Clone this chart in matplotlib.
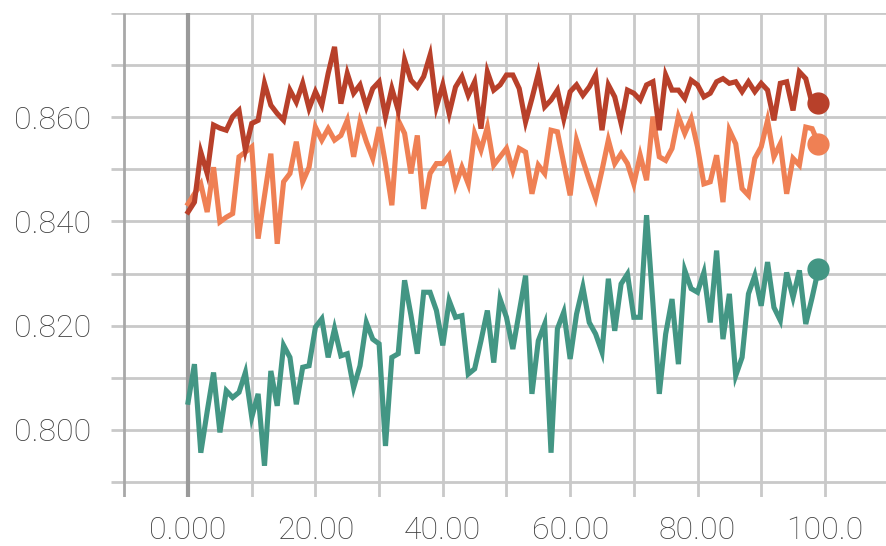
import numpy as np
import matplotlib.pyplot as plt

# values, one per step 0..99
steps = list(range(100))

red = [0.8418, 0.8437, 0.8533, 0.8492, 0.8585, 0.8579, 0.8575, 0.8601, 0.8613, 0.8537,
       0.8588, 0.8594, 0.8665, 0.8623, 0.8607, 0.8594, 0.8652, 0.8629, 0.8665, 0.8617,
       0.8649, 0.8623, 0.8684, 0.8735, 0.8626, 0.8684, 0.8646, 0.8662, 0.8620, 0.8655,
       0.8668, 0.8601, 0.8655, 0.8613, 0.8710, 0.8671, 0.8658, 0.8678, 0.8719, 0.8620,
       0.8662, 0.8607, 0.8658, 0.8678, 0.8642, 0.8668, 0.8578, 0.8687, 0.8652, 0.8662,
       0.8681, 0.8681, 0.8655, 0.8591, 0.8636, 0.8684, 0.8620, 0.8633, 0.8652, 0.8597,
       0.8649, 0.8662, 0.8642, 0.8658, 0.8681, 0.8575, 0.8662, 0.8639, 0.8588, 0.8652,
       0.8646, 0.8633, 0.8662, 0.8668, 0.8575, 0.8681, 0.8652, 0.8652, 0.8636, 0.8671,
       0.8662, 0.8639, 0.8646, 0.8668, 0.8674, 0.8665, 0.8668, 0.8649, 0.8668, 0.8649,
       0.8665, 0.8652, 0.8594, 0.8665, 0.8668, 0.8613, 0.8687, 0.8674, 0.8626, 0.8628]

orange = [0.8434, 0.8453, 0.8472, 0.8418, 0.8504, 0.8399, 0.8408, 0.8415, 0.8524, 0.8533,
          0.8543, 0.8367, 0.8449, 0.8530, 0.8357, 0.8476, 0.8492, 0.8553, 0.8476, 0.8504,
          0.8581, 0.8556, 0.8578, 0.8556, 0.8565, 0.8594, 0.8524, 0.8591, 0.8553, 0.8521,
          0.8581, 0.8511, 0.8431, 0.8594, 0.8569, 0.8492, 0.8565, 0.8424, 0.8492, 0.8511,
          0.8511, 0.8527, 0.8469, 0.8504, 0.8472, 0.8569, 0.8537, 0.8581, 0.8508, 0.8524,
          0.8540, 0.8498, 0.8540, 0.8533, 0.8453, 0.8508, 0.8492, 0.8575, 0.8572, 0.8511,
          0.8450, 0.8556, 0.8517, 0.8479, 0.8444, 0.8498, 0.8556, 0.8511, 0.8530, 0.8511,
          0.8472, 0.8527, 0.8479, 0.8601, 0.8524, 0.8517, 0.8540, 0.8601, 0.8569, 0.8597,
          0.8543, 0.8472, 0.8476, 0.8527, 0.8437, 0.8575, 0.8549, 0.8463, 0.8450, 0.8521,
          0.8543, 0.8594, 0.8524, 0.8549, 0.8453, 0.8521, 0.8508, 0.8581, 0.8578, 0.8549]

green = [0.8053, 0.8126, 0.7956, 0.8035, 0.8110, 0.7995, 0.8075, 0.8062, 0.8072, 0.8110,
         0.8024, 0.8069, 0.7931, 0.8113, 0.8046, 0.8162, 0.8139, 0.8049, 0.8120, 0.8123,
         0.8197, 0.8213, 0.8139, 0.8194, 0.8142, 0.8146, 0.8081, 0.8123, 0.8206, 0.8174,
         0.8165, 0.7969, 0.8139, 0.8146, 0.8287, 0.8220, 0.8146, 0.8264, 0.8264, 0.8229,
         0.8162, 0.8248, 0.8216, 0.8219, 0.8107, 0.8117, 0.8171, 0.8229, 0.8129, 0.8251,
         0.8216, 0.8155, 0.8226, 0.8296, 0.8069, 0.8171, 0.8203, 0.7956, 0.8194, 0.8226,
         0.8136, 0.8222, 0.8274, 0.8206, 0.8184, 0.8149, 0.8290, 0.8190, 0.8280, 0.8299,
         0.8216, 0.8216, 0.8412, 0.8242, 0.8069, 0.8184, 0.8251, 0.8126, 0.8306, 0.8271,
         0.8264, 0.8302, 0.8206, 0.8344, 0.8174, 0.8261, 0.8104, 0.8139, 0.8261, 0.8296,
         0.8238, 0.8322, 0.8235, 0.8210, 0.8302, 0.8254, 0.8306, 0.8203, 0.8254, 0.8309]

xticks = [0, 20, 40, 60, 80, 100]
xticklabels = ["0.000", "20.00", "40.00", "60.00", "80.00", "100.0"]
yticks = [0.800, 0.820, 0.840, 0.860]
yticklabels = ["0.800", "0.820", "0.840", "0.860"]

fig = plt.figure(figsize=(8.86, 5.46), dpi=100)
ax = fig.add_axes([0.1253, 0.0897, 0.8747, 0.8865])
xmin, xmax = -12.1, 109.6
ymin, ymax = 0.7871, 0.880
ax.set_xlim(xmin, xmax)
ax.set_ylim(ymin, ymax)
for s in ax.spines.values():
    s.set_visible(False)

# grid, drawn by hand so the lines run past the plot edges like the original
gridc = "#c9c9c9"
ax.hlines(np.arange(0.79, 0.8801, 0.01), xmin, xmax, color=gridc, lw=2.0, zorder=1)
for xv in range(-10, 111, 10):
    if xv == -10:
        ax.vlines(xv, ymin, ymax, color="#a8a8a8", lw=2.0, zorder=1.5)
    elif xv == 0:
        ax.vlines(xv, ymin, ymax, color="#9a9a9a", lw=3.0, zorder=1.5)
    else:
        ax.vlines(xv, ymin, ymax, color=gridc, lw=2.0, zorder=1)

series = [(green, "#439684"), (orange, "#ef8054"), (red, "#b8402a")]
for vals, col in series:
    ax.plot(steps, vals, color=col, lw=3.7, solid_joinstyle="miter", zorder=3)
    ax.plot(steps[-1], vals[-1], "o", color=col, ms=15, zorder=4)

font = dict(family=["Roboto", "DejaVu Sans"], weight="light", size=23, color="#3f3f3f")
ax.set_xticks(xticks)
ax.set_xticklabels(xticklabels, **font)
ax.set_yticks(yticks)
ax.set_yticklabels(yticklabels, **font)
ax.tick_params(axis="both", length=0)
ax.tick_params(axis="x", pad=14)
ax.tick_params(axis="y", pad=14)

fig.savefig("out.png", dpi=100)
